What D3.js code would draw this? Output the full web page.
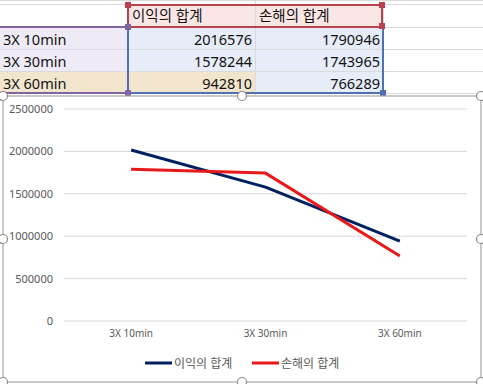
<!DOCTYPE html>
<html>
<head>
<meta charset="utf-8">
<script src="https://cdn.jsdelivr.net/npm/d3@7"></script>
<style>
  body { margin: 0; background: #fff; }
  svg text { font-family: "Noto Sans", "Noto Sans CJK KR", sans-serif; }
</style>
</head>
<body>
<div id="chart"></div>
<script>
const categories = ["3X 10min", "3X 30min", "3X 60min"];
const seriesNames = ["이익의 합계", "손해의 합계"];
const profit = [2016576, 1578244, 942810];
const loss = [1790946, 1743965, 766289];
const yTicks = [0, 500000, 1000000, 1500000, 2000000, 2500000];

const W = 483, H = 384;
const svg = d3.select("#chart").append("svg")
    .attr("width", W)
    .attr("height", H);

// ---- spreadsheet part ----
const colX = [0, 128, 255, 383, 483];
const rowY = [4, 27, 49, 71, 93];
const grid = svg.append("g");

// cell fills
grid.append("rect").attr("x", 128).attr("y", 4).attr("width", 255).attr("height", 23).attr("fill", "#fbe6e6");
grid.append("rect").attr("x", 0).attr("y", 27).attr("width", 128).attr("height", 66).attr("fill", "#eeeaf6");
grid.append("rect").attr("x", 128).attr("y", 27).attr("width", 255).attr("height", 66).attr("fill", "#e6edf8");
grid.append("rect").attr("x", 0).attr("y", 71).attr("width", 255).attr("height", 22).attr("fill", "#f1e6cd");

// gridlines
[rowY[0] - 4].concat(rowY).forEach(y => {
    grid.append("line").attr("x1", 0).attr("x2", W).attr("y1", y + 0.5).attr("y2", y + 0.5)
        .attr("stroke", "#dadada");
});
colX.slice(1, 4).forEach(x => {
    grid.append("line").attr("x1", x + 0.5).attr("x2", x + 0.5).attr("y1", 0).attr("y2", 96)
        .attr("stroke", "#dadada");
});

// header text
seriesNames.forEach((s, i) => {
    grid.append("text").attr("x", colX[i + 1] + 4).attr("y", rowY[0] + 17)
        .attr("font-size", 14.5).attr("fill", "#111").text(s);
});
// rows
categories.forEach((c, i) => {
    grid.append("text").attr("x", 3).attr("y", rowY[i + 1] + 18)
        .attr("font-size", 14.5).attr("fill", "#111").text(c);
    [profit[i], loss[i]].forEach((v, j) => {
        grid.append("text").attr("x", colX[j + 2] - 3).attr("y", rowY[i + 1] + 18)
            .attr("text-anchor", "end").attr("font-size", 14.5).attr("fill", "#111").text(v);
    });
});

// range borders
const rangeBox = (x, y, w, h, color) => {
    grid.append("rect").attr("x", x).attr("y", y).attr("width", w).attr("height", h)
        .attr("fill", "none").attr("stroke", color).attr("stroke-width", 2);
};
rangeBox(-2, 27, 130, 66, "#8064a2");
rangeBox(128, 27, 255, 66, "#4f71b0");
rangeBox(128, 5, 254, 22, "#b8434e");
const handle = (x, y, color) => {
    grid.append("rect").attr("x", x - 3).attr("y", y - 3).attr("width", 6).attr("height", 6)
        .attr("fill", color);
};
handle(128, 5, "#b8434e");
handle(382, 5, "#b8434e");
handle(382, 26, "#b8434e");
handle(128, 27, "#8064a2");
handle(128, 93, "#8064a2");
handle(383, 93, "#4f71b0");

// ---- chart part ----
const frame = { x: 3, y: 96, w: 478, h: 286 };
svg.append("rect").attr("x", frame.x).attr("y", frame.y).attr("width", frame.w).attr("height", frame.h)
    .attr("fill", "#fff").attr("stroke", "#a6a6a6").attr("stroke-width", 1.2);

const margin = { left: 64, right: 16, top: 109, bottom: 321 };
const x = d3.scaleBand().domain(categories).range([margin.left, W - margin.right]);
const y = d3.scaleLinear().domain([0, 2500000]).range([margin.bottom, margin.top]);

const g = svg.append("g");
g.selectAll(".grid").data(yTicks).join("line")
    .attr("x1", margin.left).attr("x2", W - margin.right)
    .attr("y1", d => y(d)).attr("y2", d => y(d))
    .attr("stroke", "#d9d9d9").attr("stroke-width", 1);

g.append("g")
    .attr("transform", `translate(${margin.left},0)`)
    .call(d3.axisLeft(y).tickValues(yTicks).tickSize(0).tickPadding(11).tickFormat(d3.format("d")))
    .call(a => a.select(".domain").remove())
    .call(a => a.selectAll("text").attr("fill", "#595959").attr("font-size", 11)
        .style("font-family", "'Noto Sans', sans-serif"));

g.append("g")
    .attr("transform", `translate(0,${margin.bottom})`)
    .call(d3.axisBottom(x).tickSize(0).tickPadding(9))
    .call(a => a.select(".domain").remove())
    .call(a => a.selectAll("text").attr("fill", "#595959").attr("font-size", 10)
        .style("font-family", "'Noto Sans', sans-serif"));

const series = [
    { name: seriesNames[0], values: profit, color: "#002060" },
    { name: seriesNames[1], values: loss, color: "#e8191b" }
];
const line = d3.line()
    .x((d, i) => x(categories[i]) + x.bandwidth() / 2)
    .y(d => y(d));

series.forEach(s => {
    g.append("path").datum(s.values)
        .attr("d", line)
        .attr("fill", "none")
        .attr("stroke", s.color)
        .attr("stroke-width", 3)
        .attr("stroke-linejoin", "round");
});

// legend
const legendX = [145, 252];
series.forEach((s, i) => {
    const lg = svg.append("g").attr("transform", `translate(${legendX[i]},363)`);
    lg.append("line").attr("x1", 0).attr("x2", 27).attr("y1", 0).attr("y2", 0)
        .attr("stroke", s.color).attr("stroke-width", 3);
    lg.append("text").attr("x", 29).attr("y", 4.5).attr("font-size", 12)
        .attr("fill", "#595959").text(s.name);
});

// selection handles on the chart frame
const hx = [frame.x, frame.x + frame.w / 2, frame.x + frame.w];
const hy = [frame.y, frame.y + frame.h / 2, frame.y + frame.h];
hx.forEach((px, i) => hy.forEach((py, j) => {
    if (i === 1 && j === 1) return;
    svg.append("circle").attr("cx", px).attr("cy", py).attr("r", 4.5)
        .attr("fill", "#fff").attr("stroke", "#8c8c8c").attr("stroke-width", 1.2);
}));
</script>
</body>
</html>
